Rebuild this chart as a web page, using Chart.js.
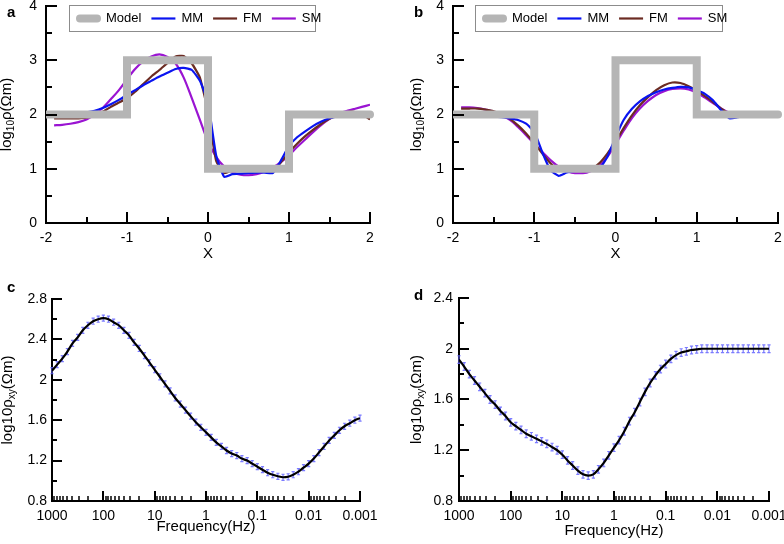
<!DOCTYPE html>
<html>
<head>
<meta charset="utf-8">
<script src="https://cdn.jsdelivr.net/npm/chart.js@4.4.1/dist/chart.umd.min.js"></script>
<style>
  body { margin: 0; background: #fff; }
  #wrap { position: relative; width: 784px; height: 544px; }
  canvas { position: absolute; }
</style>
</head>
<body>
<div id="wrap">
  <canvas id="chartA" width="392" height="272" style="left:0;top:0"></canvas>
  <canvas id="chartB" width="392" height="272" style="left:392px;top:0"></canvas>
  <canvas id="chartC" width="392" height="272" style="left:0;top:272px"></canvas>
  <canvas id="chartD" width="392" height="272" style="left:392px;top:272px"></canvas>
</div>
<script>
// ---- data: resistivity profiles (a, b) ----
const modelX = [-2, -1, -1, 0, 0, 1, 1, 2];
const modelA = [2, 2, 3, 3, 1, 1, 2, 2];
const modelB = [2, 2, 1, 1, 3, 3, 2, 2];

const xPos = [-1.9, -1.8, -1.7, -1.6, -1.5, -1.4, -1.3, -1.2, -1.1, -1.0,
  -0.9, -0.8, -0.7, -0.6, -0.5, -0.4, -0.3, -0.2, -0.1, 0,
  0.1, 0.2, 0.3, 0.4, 0.5, 0.6, 0.7, 0.8, 0.9, 1.0,
  1.1, 1.2, 1.3, 1.4, 1.5, 1.6, 1.7, 1.8, 1.9, 2.0];

const mmA = [2.00, 2.00, 2.01, 2.02, 2.04, 2.07, 2.12, 2.19, 2.27, 2.36,
  2.45, 2.54, 2.62, 2.70, 2.77, 2.84, 2.86, 2.82, 2.62, 2.22,
  1.25, 0.85, 0.90, 0.91, 0.92, 0.93, 0.93, 0.92, 1.15, 1.42,
  1.58, 1.69, 1.79, 1.87, 1.93, 1.97, 2.00, 2.02, 2.01, 1.99];
const fmA = [1.93, 1.93, 1.93, 1.93, 1.94, 1.98, 2.05, 2.14, 2.22, 2.30,
  2.42, 2.56, 2.70, 2.82, 2.95, 3.07, 3.08, 2.94, 2.68, 2.05,
  1.15, 0.92, 0.97, 1.01, 1.03, 1.00, 0.95, 0.94, 1.12, 1.30,
  1.46, 1.60, 1.72, 1.83, 1.92, 1.99, 2.04, 2.05, 2.01, 1.91];
const smA = [1.80, 1.81, 1.83, 1.86, 1.91, 2.00, 2.12, 2.28, 2.45, 2.65,
  2.84, 2.98, 3.07, 3.11, 3.06, 2.94, 2.68, 2.30, 1.90, 1.50,
  1.22, 1.04, 0.94, 0.89, 0.88, 0.90, 0.95, 1.02, 1.12, 1.25,
  1.40, 1.54, 1.68, 1.81, 1.92, 2.01, 2.06, 2.10, 2.14, 2.18];

const mmB = [1.97, 1.97, 1.97, 1.96, 1.96, 1.95, 1.93, 1.90, 1.83, 1.68,
  1.30, 0.97, 0.87, 0.93, 0.96, 0.98, 0.98, 1.00, 1.22, 1.58,
  1.90, 2.10, 2.24, 2.34, 2.41, 2.46, 2.49, 2.51, 2.50, 2.45,
  2.38, 2.26, 2.08, 1.93, 1.95, 1.99, 2.02, 2.03, 2.02, 2.00];
const fmB = [2.11, 2.11, 2.11, 2.09, 2.06, 2.00, 1.92, 1.80, 1.65, 1.47,
  1.28, 1.10, 0.98, 0.96, 0.99, 0.95, 0.99, 1.10, 1.28, 1.50,
  1.75, 1.98, 2.17, 2.32, 2.45, 2.54, 2.59, 2.58, 2.52, 2.44,
  2.34, 2.23, 2.11, 2.02, 1.97, 1.96, 1.97, 1.99, 2.00, 2.00];
const smB = [2.13, 2.13, 2.12, 2.09, 2.05, 1.98, 1.90, 1.77, 1.62, 1.46,
  1.31, 1.16, 1.04, 0.96, 0.92, 0.92, 0.96, 1.06, 1.22, 1.45,
  1.70, 1.93, 2.11, 2.25, 2.36, 2.43, 2.47, 2.48, 2.46, 2.40,
  2.31, 2.21, 2.11, 2.03, 1.98, 1.96, 1.96, 1.97, 1.97, 1.97];

// ---- data: sounding curves (c, d) ----
const freq = [1000, 794, 631, 501, 398, 316, 251, 200, 158, 126,
  100, 79.4, 63.1, 50.1, 39.8, 31.6, 25.1, 20, 15.8, 12.6,
  10, 7.94, 6.31, 5.01, 3.98, 3.16, 2.51, 2, 1.58, 1.26,
  1, 0.794, 0.631, 0.501, 0.398, 0.316, 0.251, 0.2, 0.158, 0.126,
  0.1, 0.0794, 0.0631, 0.0501, 0.0398, 0.0316, 0.0251, 0.02, 0.0158, 0.0126,
  0.01, 0.00794, 0.00631, 0.00501, 0.00398, 0.00316, 0.00251, 0.002, 0.00158, 0.00126,
  0.001];

const rhoC = [2.09, 2.15, 2.21, 2.28, 2.36, 2.42, 2.49, 2.54, 2.58, 2.60,
  2.61, 2.60, 2.57, 2.54, 2.49, 2.44, 2.37, 2.31, 2.24, 2.17,
  2.10, 2.03, 1.96, 1.89, 1.82, 1.76, 1.70, 1.64, 1.58, 1.53,
  1.48, 1.43, 1.38, 1.34, 1.30, 1.27, 1.25, 1.22, 1.20, 1.17,
  1.14, 1.11, 1.08, 1.06, 1.045, 1.035, 1.04, 1.06, 1.09, 1.13,
  1.17, 1.22, 1.28, 1.34, 1.40, 1.45, 1.50, 1.54, 1.57, 1.60,
  1.62];
const rhoD = [1.915, 1.86, 1.80, 1.75, 1.70, 1.65, 1.60, 1.56, 1.51, 1.47,
  1.42, 1.39, 1.36, 1.33, 1.31, 1.29, 1.27, 1.25, 1.225, 1.20,
  1.165, 1.12, 1.08, 1.04, 1.01, 1.00, 1.01, 1.05, 1.10, 1.16,
  1.22, 1.28, 1.35, 1.43, 1.50, 1.58, 1.66, 1.73, 1.79, 1.84,
  1.88, 1.92, 1.95, 1.97, 1.98, 1.99, 1.995, 2.0, 2.0, 2.0,
  2.0, 2.0, 2.0, 2.0, 2.0, 2.0, 2.0, 2.0, 2.0, 2.0,
  2.0];
const errC = 0.03;
const errD = 0.03;

const freqTicks = [1000, 100, 10, 1, 0.1, 0.01, 0.001];
const freqLabels = ['1000', '100', '10', '1', '0.1', '0.01', '0.001'];
const yTicksC = [0.8, 1.2, 1.6, 2, 2.4, 2.8];
const yTicksD = [0.8, 1.2, 1.6, 2, 2.4];

const FONT = 'Arial, "Liberation Sans", sans-serif';
const colModel = '#b5b5b5';
const colMM = '#0a14f0';
const colFM = '#6b2b22';
const colSM = '#9a14d2';
const colObs = 'rgba(100,100,255,0.85)';

// inward tick marks
const inTicks = {
  id: 'inTicks',
  afterDraw(chart, args, o) {
    const ctx = chart.ctx;
    const xs = chart.scales.x, ys = chart.scales.y;
    const area = chart.chartArea;
    ctx.save();
    ctx.strokeStyle = '#000';
    const draw = (vals, len, w, horiz) => {
      ctx.lineWidth = w;
      vals.forEach(v => {
        ctx.beginPath();
        if (horiz) {
          const px = Math.round(xs.getPixelForValue(v));
          ctx.moveTo(px, area.bottom);
          ctx.lineTo(px, area.bottom - len);
        } else {
          const py = Math.round(ys.getPixelForValue(v));
          ctx.moveTo(area.left, py);
          ctx.lineTo(area.left + len, py);
        }
        ctx.stroke();
      });
    };
    draw(o.xMajor, o.majorLen, 2, true);
    draw(o.xMinor, o.minorLen, o.minorW, true);
    draw(o.yMajor, o.majorLen, 2, false);
    draw(o.yMinor, o.minorLen, 2, false);
    ctx.restore();
  }
};

// y axis title with subscript part
const yTitle = {
  id: 'yTitle',
  afterDraw(chart, args, o) {
    const ctx = chart.ctx;
    const area = chart.chartArea;
    ctx.save();
    ctx.translate(o.x, (area.top + area.bottom) / 2);
    ctx.rotate(-Math.PI / 2);
    ctx.fillStyle = '#000';
    ctx.textBaseline = 'alphabetic';
    let total = 0;
    o.parts.forEach(p => {
      ctx.font = p[1] + 'px ' + FONT;
      total += ctx.measureText(p[0]).width;
    });
    let cx = -total / 2;
    o.parts.forEach(p => {
      ctx.font = p[1] + 'px ' + FONT;
      ctx.fillText(p[0], cx, p[2]);
      cx += ctx.measureText(p[0]).width;
    });
    ctx.restore();
  }
};

// panel letter
const panelTag = {
  id: 'panelTag',
  afterDraw(chart, args, o) {
    const ctx = chart.ctx;
    ctx.save();
    ctx.font = 'bold 15px ' + FONT;
    ctx.fillStyle = '#000';
    ctx.textBaseline = 'alphabetic';
    ctx.fillText(o.text, o.x, o.y);
    ctx.restore();
  }
};

// boxed legend inside the plot
const boxLegend = {
  id: 'boxLegend',
  afterDraw(chart, args, o) {
    const ctx = chart.ctx;
    ctx.save();
    ctx.fillStyle = '#fff';
    ctx.fillRect(o.x, o.y, o.w, o.h);
    ctx.strokeStyle = '#8c8c8c';
    ctx.lineWidth = 1;
    ctx.strokeRect(o.x + 0.5, o.y + 0.5, o.w, o.h);
    ctx.font = '13px ' + FONT;
    ctx.textBaseline = 'middle';
    const cy = o.y + o.h / 2 + 0.5;
    let cx = o.x + 7;
    chart.data.datasets.forEach(ds => {
      ctx.strokeStyle = ds.borderColor;
      ctx.lineWidth = ds.borderWidth;
      ctx.lineCap = ds.borderWidth > 4 ? 'round' : 'butt';
      ctx.beginPath();
      if (ds.borderWidth > 4) {
        ctx.moveTo(cx + 4, cy); ctx.lineTo(cx + 21, cy);
      } else {
        ctx.moveTo(cx, cy); ctx.lineTo(cx + 24, cy);
      }
      ctx.stroke();
      cx += 30;
      ctx.fillStyle = '#000';
      ctx.fillText(ds.label, cx, cy);
      cx += ctx.measureText(ds.label).width + 10;
    });
    ctx.restore();
  }
};

// error bars of observed data
const errBars = {
  id: 'errBars',
  beforeDatasetsDraw(chart, args, o) {
    const ctx = chart.ctx;
    const ys = chart.scales.y;
    const meta = chart.getDatasetMeta(0);
    const data = chart.data.datasets[0].data;
    ctx.save();
    ctx.strokeStyle = colObs;
    ctx.lineWidth = 1.2;
    meta.data.forEach((pt, i) => {
      const y1 = ys.getPixelForValue(data[i].y + o.err);
      const y2 = ys.getPixelForValue(data[i].y - o.err);
      ctx.beginPath();
      ctx.moveTo(pt.x, y1); ctx.lineTo(pt.x, y2);
      ctx.moveTo(pt.x - 1.6, y1); ctx.lineTo(pt.x + 1.6, y1);
      ctx.moveTo(pt.x - 1.6, y2); ctx.lineTo(pt.x + 1.6, y2);
      ctx.stroke();
    });
    ctx.restore();
  }
};

const axisBorder = { display: true, color: '#000', width: 2 };
const noGrid = { display: false, drawTicks: false };
const tickFont = { size: 14, family: FONT };

function pairs(xs, ys) {
  return xs.map((x, i) => ({ x: x, y: ys[i] }));
}

function profileChart(id, model, mm, fm, sm, lay) {
  return new Chart(document.getElementById(id), {
    type: 'line',
    data: {
      datasets: [
        { label: 'Model', data: pairs(modelX, model), borderColor: colModel, borderWidth: 8,
          borderCapStyle: 'round', borderJoinStyle: 'miter', pointRadius: 0, tension: 0,
          clip: { left: 0, top: 8, right: 4, bottom: 8 } },
        { label: 'MM', data: pairs(xPos, mm), borderColor: colMM, borderWidth: 2.2, pointRadius: 0, tension: 0.15 },
        { label: 'FM', data: pairs(xPos, fm), borderColor: colFM, borderWidth: 2.2, pointRadius: 0, tension: 0.15 },
        { label: 'SM', data: pairs(xPos, sm), borderColor: colSM, borderWidth: 2.2, pointRadius: 0,
          cubicInterpolationMode: 'monotone' }
      ]
    },
    options: {
      responsive: false,
      animation: false,
      layout: { padding: { left: 0, right: lay.right, top: 6, bottom: 0 } },
      plugins: {
        legend: { display: false },
        tooltip: { enabled: false },
        inTicks: { xMajor: [-2, -1, 0, 1, 2], xMinor: [-1.5, -0.5, 0.5, 1.5],
          yMajor: [0, 1, 2, 3, 4], yMinor: [0.5, 1.5, 2.5, 3.5], majorLen: 11, minorLen: 6, minorW: 2 },
        yTitle: { x: lay.titleX, parts: [['log', 15, 0], ['10', 10, 3], ['ρ(Ωm)', 15, 0]] },
        panelTag: lay.tag,
        boxLegend: lay.legend
      },
      scales: {
        x: {
          type: 'linear', min: -2, max: 2, z: 1,
          grid: noGrid, border: axisBorder,
          ticks: { stepSize: 1, padding: 7, color: '#000', font: tickFont, maxRotation: 0 },
          title: { display: true, text: 'X', color: '#000', font: { size: 15, family: FONT },
            padding: { top: 0, bottom: 9 } },
          afterFit(s) { s.height = 49; s.paddingLeft = 0; s.paddingRight = 0; }
        },
        y: {
          min: 0, max: 4, z: 1,
          grid: noGrid, border: axisBorder,
          ticks: { stepSize: 1, padding: 9, color: '#000', font: tickFont },
          afterFit(s) { s.width = lay.left; s.paddingTop = 0; s.paddingBottom = 0; }
        }
      }
    },
    plugins: [inTicks, yTitle, panelTag, boxLegend]
  });
}

function minorDecades() {
  const out = [];
  [100, 10, 1, 0.1, 0.01, 0.001].forEach(d => {
    for (let m = 2; m <= 9; m++) out.push(d * m);
  });
  return out;
}

function soundingChart(id, rho, err, yTicks, lay) {
  const yMinor = yTicks.slice(0, -1).map(v => v + 0.2);
  return new Chart(document.getElementById(id), {
    type: 'line',
    data: {
      datasets: [
        { label: 'obs', data: pairs(freq, rho), showLine: false, pointRadius: 0, borderColor: colObs },
        { label: 'fit', data: pairs(freq, rho), borderColor: '#000', borderWidth: 2.2, pointRadius: 0,
          cubicInterpolationMode: 'monotone' }
      ]
    },
    options: {
      responsive: false,
      animation: false,
      layout: { padding: { left: 0, right: lay.right, top: lay.top, bottom: 0 } },
      plugins: {
        legend: { display: false },
        tooltip: { enabled: false },
        errBars: { err: err },
        inTicks: { xMajor: freqTicks, xMinor: minorDecades(), yMajor: yTicks, yMinor: yMinor,
          majorLen: 10, minorLen: 5, minorW: 1.5 },
        yTitle: { x: lay.titleX, parts: [['log10ρ', 15, 0], ['xy', 10, 3], ['(Ωm)', 15, 0]] },
        panelTag: lay.tag
      },
      scales: {
        x: {
          type: 'logarithmic', min: 0.001, max: 1000, reverse: true, z: 1,
          grid: noGrid, border: axisBorder,
          afterBuildTicks(s) { s.ticks = freqTicks.map(v => ({ value: v })); },
          ticks: { autoSkip: false, maxRotation: 0, padding: 7, color: '#000', font: tickFont,
            callback: v => freqLabels[freqTicks.indexOf(v)] },
          title: { display: true, text: 'Frequency(Hz)', color: '#000', font: { size: 15, family: FONT },
            padding: { top: 0, bottom: lay.titlePad } },
          afterFit(s) { s.height = 43; s.paddingLeft = 0; s.paddingRight = 0; }
        },
        y: {
          min: yTicks[0], max: yTicks[yTicks.length - 1], z: 1,
          grid: noGrid, border: axisBorder,
          afterBuildTicks(s) { s.ticks = yTicks.map(v => ({ value: v })); },
          ticks: { padding: lay.yPad, color: '#000', font: tickFont,
            callback: v => String(Math.round(v * 10) / 10) },
          afterFit(s) { s.width = lay.left; s.paddingTop = 0; s.paddingBottom = 0; }
        }
      }
    },
    plugins: [errBars, inTicks, yTitle, panelTag]
  });
}

profileChart('chartA', modelA, mmA, fmA, smA, {
  left: 46, right: 22, titleX: 11,
  tag: { text: 'a', x: 7, y: 17 },
  legend: { x: 69, y: 5, w: 246, h: 26 }
});
profileChart('chartB', modelB, mmB, fmB, smB, {
  left: 61, right: 6, titleX: 29,
  tag: { text: 'b', x: 22, y: 17 },
  legend: { x: 83, y: 5, w: 247, h: 26 }
});
soundingChart('chartC', rhoC, errC, yTicksC, {
  left: 52, right: 32, top: 27, titleX: 12, titlePad: 8, yPad: 5,
  tag: { text: 'c', x: 7, y: 20 }
});
soundingChart('chartD', rhoD, errD, yTicksD, {
  left: 67, right: 15, top: 26, titleX: 29, titlePad: 4, yPad: 6,
  tag: { text: 'd', x: 22, y: 28 }
});
</script>
</body>
</html>
